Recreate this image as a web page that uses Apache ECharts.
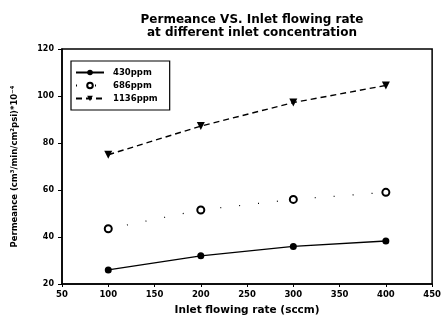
<!DOCTYPE html>
<html>
<head>
<meta charset="utf-8">
<script src="https://cdn.jsdelivr.net/npm/echarts@6/dist/echarts.min.js"></script>
<style>
  html, body { margin: 0; padding: 0; background: #fff; }
  #chart { width: 444px; height: 324px; }
</style>
</head>
<body>
<div id="chart"></div>
<script>
// inlet flowing rate (sccm)
const flowRates = [100, 200, 300, 400];
// permeance values
const ppm430 = [26, 32, 36, 38.3];
const ppm686 = [43.5, 51.5, 56, 59];
const ppm1136 = [75, 87.2, 97.2, 104.5];
const seriesNames = ['430ppm', '686ppm', '1136ppm'];

const pairs = (ys) => flowRates.map((x, i) => [x, ys[i]]);

const chart = echarts.init(document.getElementById('chart'));
const font = 'DejaVu Sans';

chart.setOption({
    animation: false,
    backgroundColor: '#fff',
    title: {
        text: 'Permeance VS. Inlet flowing rate\nat different inlet concentration',
        left: 247,
        top: 8,
        textAlign: 'center',
        textStyle: {
            fontFamily: font, fontWeight: 'bold', fontSize: 12, color: '#000', lineHeight: 13
        }
    },
    grid: { left: 62, right: 8, top: 49, bottom: 40, show: true, borderColor: '#000', borderWidth: 1.5 },
    legend: {
        orient: 'vertical',
        left: 71,
        top: 61,
        padding: [7, 12, 7, 4],
        itemGap: 4,
        itemWidth: 28,
        itemHeight: 7,
        borderColor: '#000',
        borderWidth: 1.2,
        data: seriesNames,
        textStyle: { fontFamily: font, fontWeight: 'bold', fontSize: 8.5, color: '#000', padding: [0, 0, 0, 4] }
    },
    xAxis: {
        type: 'value',
        min: 50, max: 450, interval: 50,
        name: 'Inlet flowing rate (sccm)',
        nameLocation: 'middle',
        nameGap: 21,
        nameTextStyle: { fontFamily: font, fontWeight: 'bold', fontSize: 10.5, color: '#000' },
        axisLine: { lineStyle: { color: '#000', width: 1.5 } },
        axisTick: { inside: false, length: 3, lineStyle: { color: '#000' } },
        axisLabel: { fontFamily: font, fontWeight: 'bold', fontSize: 8.5, color: '#000', margin: 6 },
        splitLine: { show: false }
    },
    yAxis: {
        type: 'value',
        min: 20, max: 120, interval: 20,
        name: 'Permeance (cm³/min/cm²psi)*10⁻⁴',
        nameLocation: 'middle',
        nameGap: 43,
        nameTextStyle: { fontFamily: font, fontWeight: 'bold', fontSize: 8.5, color: '#000' },
        axisLine: { lineStyle: { color: '#000', width: 1.5 } },
        axisTick: { length: 4, lineStyle: { color: '#000' } },
        axisLabel: { fontFamily: font, fontWeight: 'bold', fontSize: 8, color: '#000', margin: 8 },
        splitLine: { show: false }
    },
    series: [
        {
            name: seriesNames[0],
            type: 'line',
            data: pairs(ppm430),
            symbol: 'circle',
            symbolSize: 7,
            itemStyle: { color: '#000' },
            lineStyle: { color: '#000', width: 1.3, type: 'solid' }
        },
        {
            name: seriesNames[1],
            type: 'line',
            data: pairs(ppm686),
            symbol: 'emptyCircle',
            symbolSize: 7,
            itemStyle: { color: '#000', borderColor: '#000', borderWidth: 1.8 },
            lineStyle: { color: '#000', width: 1.2, type: [1, 18] }
        },
        {
            name: seriesNames[2],
            type: 'line',
            data: pairs(ppm1136),
            symbol: 'triangle',
            symbolRotate: 180,
            symbolSize: 8,
            itemStyle: { color: '#000' },
            lineStyle: { color: '#000', width: 1.4, type: [6, 4] }
        }
    ]
});
</script>
</body>
</html>
